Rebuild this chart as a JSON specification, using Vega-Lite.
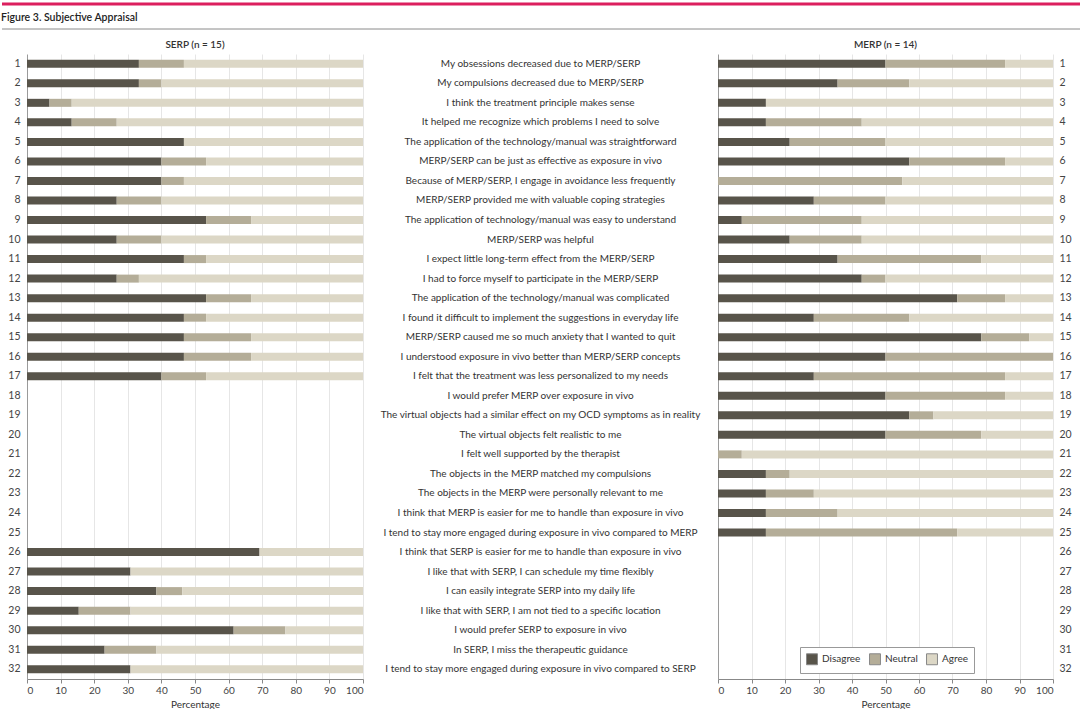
{
  "$schema": "https://vega.github.io/schema/vega-lite/v6.json",
  "padding": {"left": 0, "top": 2, "right": 0, "bottom": 0},
  "background": "white",
  "config": {
    "font": "Lato",
    "view": {"stroke": null},
    "axis": {"labelFont": "Lato", "titleFont": "Lato", "labelColor": "#444", "titleColor": "#333", "labelFontSize": 10, "titleFontSize": 10, "titleFontWeight": "normal"},
    "title": {"font": "Lato", "color": "#333"}
  },
  "datasets": {
    "questions": [
      {"item": 1, "question": "My obsessions decreased due to MERP/SERP"},
      {"item": 2, "question": "My compulsions decreased due to MERP/SERP"},
      {"item": 3, "question": "I think the treatment principle makes sense"},
      {"item": 4, "question": "It helped me recognize which problems I need to solve"},
      {"item": 5, "question": "The application of the technology/manual was straightforward"},
      {"item": 6, "question": "MERP/SERP can be just as effective as exposure in vivo"},
      {"item": 7, "question": "Because of MERP/SERP, I engage in avoidance less frequently"},
      {"item": 8, "question": "MERP/SERP provided me with valuable coping strategies"},
      {"item": 9, "question": "The application of technology/manual was easy to understand"},
      {"item": 10, "question": "MERP/SERP was helpful"},
      {"item": 11, "question": "I expect little long-term effect from the MERP/SERP"},
      {"item": 12, "question": "I had to force myself to participate in the MERP/SERP"},
      {"item": 13, "question": "The application of the technology/manual was complicated"},
      {"item": 14, "question": "I found it difficult to implement the suggestions in everyday life"},
      {"item": 15, "question": "MERP/SERP caused me so much anxiety that I wanted to quit"},
      {"item": 16, "question": "I understood exposure in vivo better than MERP/SERP concepts"},
      {"item": 17, "question": "I felt that the treatment was less personalized to my needs"},
      {"item": 18, "question": "I would prefer MERP over exposure in vivo"},
      {"item": 19, "question": "The virtual objects had a similar effect on my OCD symptoms as in reality"},
      {"item": 20, "question": "The virtual objects felt realistic to me"},
      {"item": 21, "question": "I felt well supported by the therapist"},
      {"item": 22, "question": "The objects in the MERP matched my compulsions"},
      {"item": 23, "question": "The objects in the MERP were personally relevant to me"},
      {"item": 24, "question": "I think that MERP is easier for me to handle than exposure in vivo"},
      {"item": 25, "question": "I tend to stay more engaged during exposure in vivo compared to MERP"},
      {"item": 26, "question": "I think that SERP is easier for me to handle than exposure in vivo"},
      {"item": 27, "question": "I like that with SERP, I can schedule my time flexibly"},
      {"item": 28, "question": "I can easily integrate SERP into my daily life"},
      {"item": 29, "question": "I like that with SERP, I am not tied to a specific location"},
      {"item": 30, "question": "I would prefer SERP to exposure in vivo"},
      {"item": 31, "question": "In SERP, I miss the therapeutic guidance"},
      {"item": 32, "question": "I tend to stay more engaged during exposure in vivo compared to SERP"}
    ],
    "serp": [
      {"item": 1, "Disagree": 33.3, "Neutral": 13.4, "Agree": 53.3},
      {"item": 2, "Disagree": 33.3, "Neutral": 6.7, "Agree": 60},
      {"item": 3, "Disagree": 6.7, "Neutral": 6.6, "Agree": 86.7},
      {"item": 4, "Disagree": 13.3, "Neutral": 13.4, "Agree": 73.3},
      {"item": 5, "Disagree": 46.7, "Neutral": 0, "Agree": 53.3},
      {"item": 6, "Disagree": 40, "Neutral": 13.3, "Agree": 46.7},
      {"item": 7, "Disagree": 40, "Neutral": 6.7, "Agree": 53.3},
      {"item": 8, "Disagree": 26.7, "Neutral": 13.3, "Agree": 60},
      {"item": 9, "Disagree": 53.3, "Neutral": 13.4, "Agree": 33.3},
      {"item": 10, "Disagree": 26.7, "Neutral": 13.3, "Agree": 60},
      {"item": 11, "Disagree": 46.7, "Neutral": 6.6, "Agree": 46.7},
      {"item": 12, "Disagree": 26.7, "Neutral": 6.6, "Agree": 66.7},
      {"item": 13, "Disagree": 53.3, "Neutral": 13.4, "Agree": 33.3},
      {"item": 14, "Disagree": 46.7, "Neutral": 6.6, "Agree": 46.7},
      {"item": 15, "Disagree": 46.7, "Neutral": 20, "Agree": 33.3},
      {"item": 16, "Disagree": 46.7, "Neutral": 20, "Agree": 33.3},
      {"item": 17, "Disagree": 40, "Neutral": 13.3, "Agree": 46.7},
      {"item": 26, "Disagree": 69.2, "Neutral": 0, "Agree": 30.8},
      {"item": 27, "Disagree": 30.8, "Neutral": 0, "Agree": 69.2},
      {"item": 28, "Disagree": 38.5, "Neutral": 7.7, "Agree": 53.8},
      {"item": 29, "Disagree": 15.4, "Neutral": 15.4, "Agree": 69.2},
      {"item": 30, "Disagree": 61.5, "Neutral": 15.4, "Agree": 23.1},
      {"item": 31, "Disagree": 23.1, "Neutral": 15.4, "Agree": 61.5},
      {"item": 32, "Disagree": 30.8, "Neutral": 0, "Agree": 69.2}
    ],
    "merp": [
      {"item": 1, "Disagree": 50, "Neutral": 35.7, "Agree": 14.3},
      {"item": 2, "Disagree": 35.7, "Neutral": 21.4, "Agree": 42.9},
      {"item": 3, "Disagree": 14.3, "Neutral": 0, "Agree": 85.7},
      {"item": 4, "Disagree": 14.3, "Neutral": 28.6, "Agree": 57.1},
      {"item": 5, "Disagree": 21.4, "Neutral": 28.6, "Agree": 50},
      {"item": 6, "Disagree": 57.1, "Neutral": 28.6, "Agree": 14.3},
      {"item": 7, "Disagree": 0, "Neutral": 55, "Agree": 45},
      {"item": 8, "Disagree": 28.6, "Neutral": 21.4, "Agree": 50},
      {"item": 9, "Disagree": 7.1, "Neutral": 35.8, "Agree": 57.1},
      {"item": 10, "Disagree": 21.4, "Neutral": 21.5, "Agree": 57.1},
      {"item": 11, "Disagree": 35.7, "Neutral": 42.9, "Agree": 21.4},
      {"item": 12, "Disagree": 42.9, "Neutral": 7.1, "Agree": 50},
      {"item": 13, "Disagree": 71.4, "Neutral": 14.3, "Agree": 14.3},
      {"item": 14, "Disagree": 28.6, "Neutral": 28.5, "Agree": 42.9},
      {"item": 15, "Disagree": 78.6, "Neutral": 14.3, "Agree": 7.1},
      {"item": 16, "Disagree": 50, "Neutral": 50, "Agree": 0},
      {"item": 17, "Disagree": 28.6, "Neutral": 57.1, "Agree": 14.3},
      {"item": 18, "Disagree": 50, "Neutral": 35.7, "Agree": 14.3},
      {"item": 19, "Disagree": 57.1, "Neutral": 7.2, "Agree": 35.7},
      {"item": 20, "Disagree": 50, "Neutral": 28.6, "Agree": 21.4},
      {"item": 21, "Disagree": 0, "Neutral": 7.1, "Agree": 92.9},
      {"item": 22, "Disagree": 14.3, "Neutral": 7.1, "Agree": 78.6},
      {"item": 23, "Disagree": 14.3, "Neutral": 14.3, "Agree": 71.4},
      {"item": 24, "Disagree": 14.3, "Neutral": 21.4, "Agree": 64.3},
      {"item": 25, "Disagree": 14.3, "Neutral": 57.1, "Agree": 28.6}
    ]
  },
  "align": "none",
  "vconcat": [
    {
      "width": 1020,
      "height": 25,
      "data": {"values": [{"label": "Figure 3. Subjective Appraisal"}]},
      "layer": [
        {
          "mark": {"type": "rule", "color": "#dc1f5e", "strokeWidth": 3},
          "encoding": {
            "x": {"datum": 0, "type": "quantitative", "scale": {"domain": [0, 1], "range": [-25, 1055]}, "axis": null},
            "x2": {"datum": 1},
            "y": {"datum": 1, "type": "quantitative", "scale": {"domain": [0, 1]}, "axis": null}
          }
        },
        {
          "mark": {"type": "rule", "color": "#8a8a8a", "strokeWidth": 1},
          "encoding": {
            "x": {"datum": 0, "type": "quantitative", "scale": {"domain": [0, 1], "range": [-25, 1055]}, "axis": null},
            "x2": {"datum": 1},
            "y": {"datum": 0, "type": "quantitative", "scale": {"domain": [0, 1]}, "axis": null}
          }
        },
        {
          "mark": {"type": "text", "align": "left", "baseline": "middle", "fontSize": 10.5, "fontWeight": 600, "color": "#222", "dx": -1},
          "encoding": {
            "x": {"datum": 0, "type": "quantitative", "scale": {"domain": [0, 1], "range": [-25, 1055]}, "axis": null},
            "y": {"datum": 0.45, "type": "quantitative", "scale": {"domain": [0, 1]}, "axis": null},
            "text": {"field": "label"}
          }
        }
      ]
    },
    {
      "hconcat": [
        {
          "title": {"text": "SERP (n = 15)", "fontSize": 10, "fontWeight": 600, "offset": 4},
          "width": 336,
          "height": 625,
          "data": {"name": "serp"},
          "transform": [
            {"fold": ["Disagree", "Neutral", "Agree"], "as": ["response", "pct"]},
            {"calculate": "indexof(['Disagree','Neutral','Agree'], datum.response)", "as": "ord"}
          ],
          "mark": {"type": "bar"},
          "encoding": {
            "y": {"field": "item", "type": "ordinal",
              "scale": {"domain": [1,2,3,4,5,6,7,8,9,10,11,12,13,14,15,16,17,18,19,20,21,22,23,24,25,26,27,28,29,30,31,32], "paddingInner": 0.59, "paddingOuter": 0.295},
              "axis": {"title": null, "domain": false, "ticks": false, "labelPadding": 7, "labelFontSize": 10.5}},
            "x": {"field": "pct", "type": "quantitative", "stack": "zero",
              "scale": {"domain": [0, 100], "nice": false},
              "axis": {"title": "Percentage", "values": [0,10,20,30,40,50,60,70,80,90,100], "grid": true,
                "gridColor": {"condition": {"test": "datum.value === 0", "value": "#9a9a9a"}, "value": "#e6e6e6"},
                "domainColor": "#888", "tickColor": "#888", "tickSize": 4, "labelPadding": 2, "titlePadding": 4}},
            "color": {"field": "response", "type": "nominal",
              "scale": {"domain": ["Disagree", "Neutral", "Agree"], "range": ["#58544a", "#b4ad98", "#dcd7c6"]},
              "legend": null},
            "order": {"field": "ord", "type": "quantitative"}
          }
        },
        {
          "title": {"text": " ", "fontSize": 10, "offset": 4},
          "width": 355,
          "height": 625,
          "data": {"name": "questions"},
          "mark": {"type": "text", "align": "center", "baseline": "middle", "fontSize": 10, "color": "#333"},
          "encoding": {
            "y": {"field": "item", "type": "ordinal",
              "scale": {"domain": [1,2,3,4,5,6,7,8,9,10,11,12,13,14,15,16,17,18,19,20,21,22,23,24,25,26,27,28,29,30,31,32], "paddingInner": 0.59, "paddingOuter": 0.295},
              "axis": null},
            "text": {"field": "question"}
          }
        },
        {
          "title": {"text": "MERP (n = 14)", "fontSize": 10, "fontWeight": 600, "offset": 4},
          "width": 335,
          "height": 625,
          "data": {"name": "merp"},
          "transform": [
            {"fold": ["Disagree", "Neutral", "Agree"], "as": ["response", "pct"]},
            {"calculate": "indexof(['Disagree','Neutral','Agree'], datum.response)", "as": "ord"}
          ],
          "mark": {"type": "bar"},
          "encoding": {
            "y": {"field": "item", "type": "ordinal",
              "scale": {"domain": [1,2,3,4,5,6,7,8,9,10,11,12,13,14,15,16,17,18,19,20,21,22,23,24,25,26,27,28,29,30,31,32], "paddingInner": 0.59, "paddingOuter": 0.295},
              "axis": {"orient": "right", "title": null, "domain": false, "ticks": false, "labelPadding": 6, "labelFontSize": 10.5}},
            "x": {"field": "pct", "type": "quantitative", "stack": "zero",
              "scale": {"domain": [0, 100], "nice": false},
              "axis": {"title": "Percentage", "values": [0,10,20,30,40,50,60,70,80,90,100], "grid": true,
                "gridColor": {"condition": {"test": "datum.value === 0", "value": "#9a9a9a"}, "value": "#e6e6e6"},
                "domainColor": "#888", "tickColor": "#888", "tickSize": 4, "labelPadding": 2, "titlePadding": 4}},
            "color": {"field": "response", "type": "nominal",
              "scale": {"domain": ["Disagree", "Neutral", "Agree"], "range": ["#58544a", "#b4ad98", "#dcd7c6"]},
              "legend": {"orient": "none", "legendX": 82, "legendY": 593, "direction": "horizontal", "title": null,
                "strokeColor": "#999", "fillColor": "white", "padding": 6, "symbolType": "square", "symbolSize": 120,
                "symbolStrokeColor": "#888", "symbolStrokeWidth": 1, "labelFontSize": 10, "labelColor": "#333",
                "columnPadding": 6, "labelOffset": 4}},
            "order": {"field": "ord", "type": "quantitative"}
          }
        }
      ],
      "spacing": 0,
      "bounds": "flush",
      "resolve": {"scale": {"color": "independent", "x": "independent", "y": "independent"}}
    }
  ],
  "spacing": 10
}
